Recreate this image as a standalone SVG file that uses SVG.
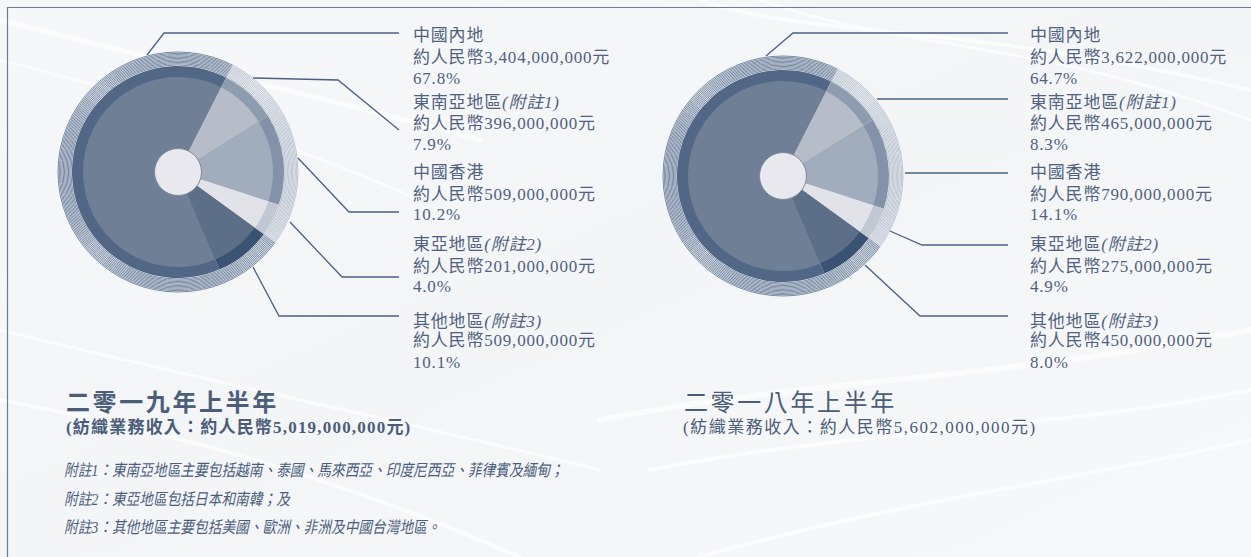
<svg xmlns="http://www.w3.org/2000/svg" xmlns:xlink="http://www.w3.org/1999/xlink" width="1251" height="557" viewBox="0 0 1251 557">
<style>
.lbl{font-family:"Liberation Serif","Noto Sans CJK TC",serif;font-size:17px;letter-spacing:0.8px;fill:#50627f}
.it{font-style:italic}
.ttl{font-family:"Liberation Serif","Noto Sans CJK TC",serif;font-size:24px;letter-spacing:2.6px;fill:#4b5d79}
.sub{font-family:"Liberation Serif","Noto Sans CJK TC",serif;font-size:17px;fill:#4b5d79}
.note{font-family:"Liberation Serif","Noto Sans CJK TC",serif;font-size:16.5px;font-style:italic;fill:#4a5d7c}
.lead{fill:none;stroke:#4a6183;stroke-width:1.3}
.stripe{fill:none;stroke:#4d6587;stroke-width:0.75}
.wave{fill:none;stroke:#ffffff;stroke-linecap:round}
</style>
<defs>
<linearGradient id="bg" x1="0" y1="0" x2="1" y2="1">
<stop offset="0" stop-color="#f6f7f9"/>
<stop offset="0.5" stop-color="#f3f5f7"/>
<stop offset="1" stop-color="#f7f8fa"/>
</linearGradient>
<g id="pie">
<g>
<circle r="107" class="stripe"/>
<circle r="108.3" class="stripe"/>
<circle r="109.6" class="stripe"/>
<circle r="110.9" class="stripe"/>
<circle r="112.2" class="stripe"/>
<circle r="113.5" class="stripe"/>
<circle r="114.8" class="stripe"/>
<circle r="116.1" class="stripe"/>
<circle r="117.4" class="stripe"/>
<circle r="118.7" class="stripe"/>
<circle r="120" class="stripe"/>
</g>
<path d="M54.93,-107.81 A121,121 0 0 1 97.89,71.12 L86.16,62.60 A106.5,106.5 0 0 0 48.35,-94.89 Z" fill="#ffffff" fill-opacity="0.5"/>
<path d="M0,0 L41.41,97.57 A106,106 0 1 1 48.12,-94.45 Z" fill="#516785"/>
<path d="M0,0 L48.12,-94.45 A106,106 0 0 1 89.89,-56.17 Z" fill="#8e9cb0"/>
<path d="M0,0 L89.89,-56.17 A106,106 0 0 1 100.82,32.75 Z" fill="#8392a8"/>
<path d="M0,0 L100.82,32.75 A106,106 0 0 1 85.75,62.31 Z" fill="#c1c8d4"/>
<path d="M0,0 L85.75,62.31 A106,106 0 0 1 41.41,97.57 Z" fill="#3a5373"/>
<path d="M0,0 L37.12,87.45 A95,95 0 1 1 43.13,-84.65 Z" fill="#6e7f96"/>
<path d="M0,0 L43.13,-84.65 A95,95 0 0 1 80.56,-50.34 Z" fill="#b6bdc9"/>
<path d="M0,0 L80.56,-50.34 A95,95 0 0 1 90.35,29.36 Z" fill="#a1acbc"/>
<path d="M0,0 L90.35,29.36 A95,95 0 0 1 76.86,55.84 Z" fill="#e1e3e9"/>
<path d="M0,0 L76.86,55.84 A95,95 0 0 1 37.12,87.45 Z" fill="#5d6f88"/>
<circle r="23.5" fill="#e9e8ee" stroke="#7a889c" stroke-width="1"/>
</g>
</defs>
<rect width="1251" height="557" fill="url(#bg)"/>
<g opacity="0.7">
<path class="wave" stroke-width="4" d="M700,0 C820,40 950,20 1251,90"/>
<path class="wave" stroke-width="3" d="M760,0 C900,50 1040,40 1251,120"/>
<path class="wave" stroke-width="5" d="M0,20 C150,60 300,90 480,140"/>
<path class="wave" stroke-width="3" d="M0,60 C120,90 260,130 420,200"/>
<path class="wave" stroke-width="6" d="M600,420 C800,380 1000,380 1251,330"/>
<path class="wave" stroke-width="4" d="M650,470 C850,430 1050,430 1251,390"/>
<path class="wave" stroke-width="4" d="M700,557 C900,500 1080,480 1251,440"/>
<path class="wave" stroke-width="3" d="M0,330 C200,380 400,420 600,470"/>
<path class="wave" stroke-width="4" d="M0,400 C160,430 320,470 520,557"/>
</g>
<path d="M7.5,557 V7.5 H1251" fill="none" stroke="#6a7d97" stroke-width="1.2"/>

<g id="pie-2019"><use xlink:href="#pie" href="#pie" x="178" y="172"/></g>
<g id="pie-2018"><use xlink:href="#pie" href="#pie" x="783" y="176"/></g>

<g id="connectors">
<polyline class="lead" points="147,55 164,33 399,33"/>
<polyline class="lead" points="253,78 338,80 399,130"/>
<polyline class="lead" points="298,158 349,212 399,212"/>
<polyline class="lead" points="290,222 342,277 399,277"/>
<polyline class="lead" points="253,267 279,316 399,316"/>
<polyline class="lead" points="766,56 793,33 1008,33"/>
<polyline class="lead" points="877,99 1008,99"/>
<polyline class="lead" points="905,173 1008,173"/>
<polyline class="lead" points="890,231 922,245 1008,245"/>
<polyline class="lead" points="865,265 920,316 1008,316"/>
</g>

<g id="label-2019-mainland" class="lbl">
<text x="413" y="41">中國內地</text>
<text x="413" y="63">約人民幣3,404,000,000元</text>
<text x="413" y="84">67.8%</text>
</g>
<g id="label-2019-sea" class="lbl">
<text x="413" y="107.5">東南亞地區<tspan class="it">(附註1)</tspan></text>
<text x="413" y="129">約人民幣396,000,000元</text>
<text x="413" y="150">7.9%</text>
</g>
<g id="label-2019-hk" class="lbl">
<text x="413" y="178">中國香港</text>
<text x="413" y="199.5">約人民幣509,000,000元</text>
<text x="413" y="220">10.2%</text>
</g>
<g id="label-2019-ea" class="lbl">
<text x="413" y="250">東亞地區<tspan class="it">(附註2)</tspan></text>
<text x="413" y="271.5">約人民幣201,000,000元</text>
<text x="413" y="292">4.0%</text>
</g>
<g id="label-2019-other" class="lbl">
<text x="413" y="326.5">其他地區<tspan class="it">(附註3)</tspan></text>
<text x="413" y="346">約人民幣509,000,000元</text>
<text x="413" y="368">10.1%</text>
</g>

<g id="label-2018-mainland" class="lbl">
<text x="1030" y="41">中國內地</text>
<text x="1030" y="63">約人民幣3,622,000,000元</text>
<text x="1030" y="84">64.7%</text>
</g>
<g id="label-2018-sea" class="lbl">
<text x="1030" y="107.5">東南亞地區<tspan class="it">(附註1)</tspan></text>
<text x="1030" y="129">約人民幣465,000,000元</text>
<text x="1030" y="150">8.3%</text>
</g>
<g id="label-2018-hk" class="lbl">
<text x="1030" y="178">中國香港</text>
<text x="1030" y="199.5">約人民幣790,000,000元</text>
<text x="1030" y="220">14.1%</text>
</g>
<g id="label-2018-ea" class="lbl">
<text x="1030" y="250">東亞地區<tspan class="it">(附註2)</tspan></text>
<text x="1030" y="271.5">約人民幣275,000,000元</text>
<text x="1030" y="292">4.9%</text>
</g>
<g id="label-2018-other" class="lbl">
<text x="1030" y="326.5">其他地區<tspan class="it">(附註3)</tspan></text>
<text x="1030" y="346">約人民幣450,000,000元</text>
<text x="1030" y="368">8.0%</text>
</g>

<g id="title-2019">
<text class="ttl" x="66" y="411" font-weight="bold">二零一九年上半年</text>
<text class="sub" x="66" y="433" font-weight="bold" letter-spacing="1.2">(紡織業務收入：約人民幣5,019,000,000元)</text>
</g>
<g id="title-2018">
<text class="ttl" x="684" y="411">二零一八年上半年</text>
<text class="sub" x="683" y="433" letter-spacing="1.5">(紡織業務收入：約人民幣5,602,000,000元)</text>
</g>

<g id="footnotes" class="note" transform="translate(64,0) scale(0.83,1)">
<text x="0" y="476">附註1：東南亞地區主要包括越南、泰國、馬來西亞、印度尼西亞、菲律賓及緬甸；</text>
<text x="0" y="505">附註2：東亞地區包括日本和南韓；及</text>
<text x="0" y="533">附註3：其他地區主要包括美國、歐洲、非洲及中國台灣地區。</text>
</g>
</svg>
